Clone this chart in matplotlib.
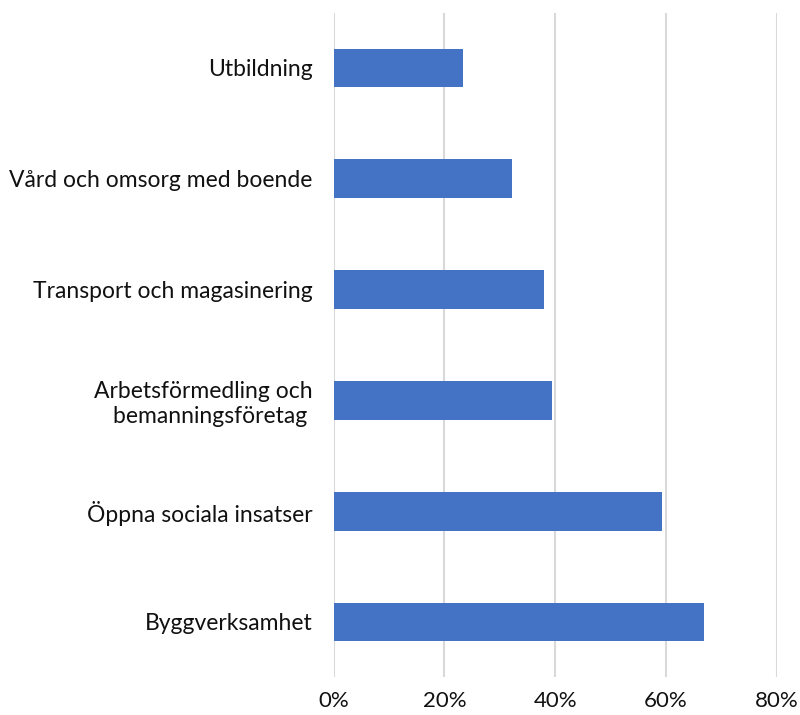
import matplotlib
matplotlib.use("Agg")
import matplotlib.pyplot as plt
from matplotlib.ticker import PercentFormatter

# data, top to bottom as in the chart
categories = [
    "Utbildning",
    "Vård och omsorg med boende",
    "Transport och magasinering",
    "Arbetsförmedling och\nbemanningsföretag ",
    "Öppna sociala insatser",
    "Byggverksamhet",
]
shares = [0.234, 0.322, 0.379, 0.394, 0.592, 0.669]
xticks = [0, 0.2, 0.4, 0.6, 0.8]

BAR = "#4472C4"
GRID = "#d9d9d9"

plt.rcParams["font.family"] = ["Lato", "DejaVu Sans"]

fig = plt.figure(figsize=(8, 7.15), dpi=100)
ax = fig.add_axes([0.4169, 0.0526, 0.971 - 0.4169, 0.9824 - 0.0526])

y = range(len(categories))
ax.barh(y, shares, height=0.35, color=BAR, zorder=3)
ax.set_ylim(len(categories) - 0.5, -0.5)
ax.set_xlim(0, 0.8)

ax.set_yticks(list(y))
ax.set_yticklabels(categories, fontsize=16.5, color="#111111")
ax.set_xticks(xticks)
ax.xaxis.set_major_formatter(PercentFormatter(1.0, decimals=0))
for lbl in ax.get_xticklabels():
    lbl.set_fontsize(16)
    lbl.set_color("#111111")

ax.tick_params(axis="y", length=0, pad=15)
ax.tick_params(axis="x", length=0, pad=10)
ax.grid(axis="x", color=GRID, linewidth=1.5, zorder=0)
for s in ax.spines.values():
    s.set_visible(False)

fig.savefig("out.png", dpi=100, facecolor="white")
